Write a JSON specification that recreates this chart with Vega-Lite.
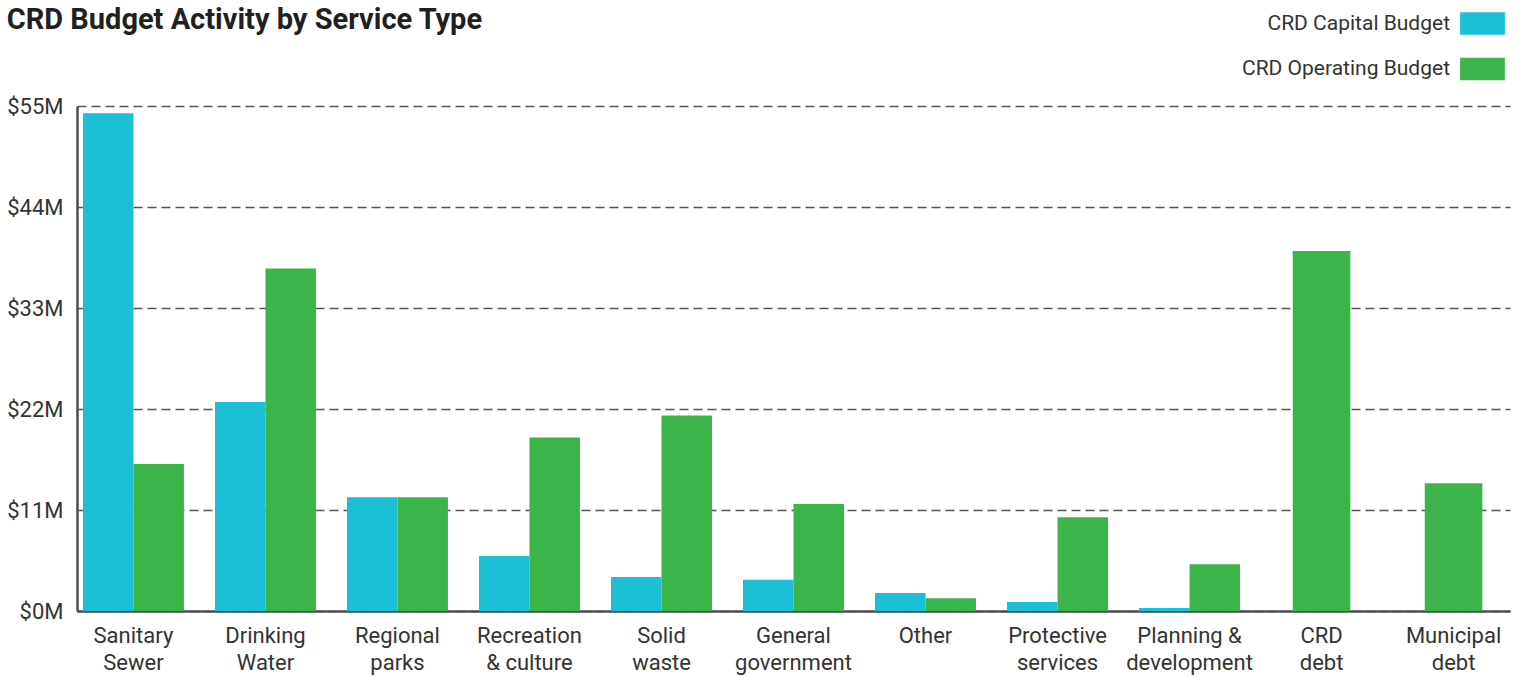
{
  "$schema": "https://vega.github.io/schema/vega-lite/v6.json",
  "width": 1433,
  "height": 505,
  "autosize": {"type": "none"},
  "padding": {"left": 77, "top": 106, "right": 13, "bottom": 66},
  "background": "white",
  "title": {
    "text": "CRD Budget Activity by Service Type",
    "anchor": "start",
    "frame": "bounds",
    "font": "Roboto",
    "fontSize": 29,
    "fontWeight": "bold",
    "color": "#231f20",
    "baseline": "alphabetic",
    "offset": -57
  },
  "config": {
    "view": {"stroke": null},
    "font": "Roboto"
  },
  "data": {
    "values": [
      {"service": "Sanitary Sewer", "budget": "CRD Capital Budget", "amount": 54.2},
      {"service": "Sanitary Sewer", "budget": "CRD Operating Budget", "amount": 16.0},
      {"service": "Drinking Water", "budget": "CRD Capital Budget", "amount": 22.75},
      {"service": "Drinking Water", "budget": "CRD Operating Budget", "amount": 37.3},
      {"service": "Regional parks", "budget": "CRD Capital Budget", "amount": 12.4},
      {"service": "Regional parks", "budget": "CRD Operating Budget", "amount": 12.4},
      {"service": "Recreation & culture", "budget": "CRD Capital Budget", "amount": 6.0},
      {"service": "Recreation & culture", "budget": "CRD Operating Budget", "amount": 18.9},
      {"service": "Solid waste", "budget": "CRD Capital Budget", "amount": 3.7},
      {"service": "Solid waste", "budget": "CRD Operating Budget", "amount": 21.3},
      {"service": "General government", "budget": "CRD Capital Budget", "amount": 3.4},
      {"service": "General government", "budget": "CRD Operating Budget", "amount": 11.65},
      {"service": "Other", "budget": "CRD Capital Budget", "amount": 1.95},
      {"service": "Other", "budget": "CRD Operating Budget", "amount": 1.4},
      {"service": "Protective services", "budget": "CRD Capital Budget", "amount": 0.98},
      {"service": "Protective services", "budget": "CRD Operating Budget", "amount": 10.2},
      {"service": "Planning & development", "budget": "CRD Capital Budget", "amount": 0.33},
      {"service": "Planning & development", "budget": "CRD Operating Budget", "amount": 5.1},
      {"service": "CRD debt", "budget": "CRD Operating Budget", "amount": 39.2},
      {"service": "Municipal debt", "budget": "CRD Operating Budget", "amount": 13.9}
    ]
  },
  "encoding": {
    "x": {
      "field": "service",
      "type": "nominal",
      "sort": null,
      "title": null,
      "scale": {
        "domain": ["Sanitary Sewer", "Drinking Water", "Regional parks", "Recreation & culture", "Solid waste", "General government", "Other", "Protective services", "Planning & development", "CRD debt", "Municipal debt"],
        "paddingInner": 0.235,
        "paddingOuter": 0.045
      },
      "axis": {
        "labelAngle": 0,
        "ticks": false,
        "domainColor": "#4a4f57",
        "domainWidth": 2.5,
        "labelFontSize": 22,
        "labelLineHeight": 27,
        "labelColor": "#333333",
        "labelPadding": 14,
        "labelOverlap": false,
        "labelLimit": 300,
        "labelExpr": "datum.value == 'Recreation & culture' ? ['Recreation', '& culture'] : datum.value == 'Planning & development' ? ['Planning &', 'development'] : split(datum.value, ' ')"
      }
    },
    "y": {
      "field": "amount",
      "type": "quantitative",
      "title": null,
      "scale": {"domain": [0, 55], "nice": false},
      "axis": {
        "values": [0, 11, 22, 33, 44, 55],
        "labelExpr": "'$' + datum.value + 'M'",
        "ticks": false,
        "domain": true,
        "domainColor": "#4a4f57",
        "domainWidth": 2.5,
        "grid": true,
        "gridColor": "#50555c",
        "gridWidth": 1.5,
        "gridDash": [9, 5],
        "labelFontSize": 22,
        "labelColor": "#333333",
        "labelPadding": 14
      }
    },
    "color": {
      "field": "budget",
      "type": "nominal",
      "title": null,
      "scale": {
        "domain": ["CRD Capital Budget", "CRD Operating Budget"],
        "range": ["#1bbfd6", "#3bb54a"]
      },
      "legend": {
        "orient": "none",
        "legendX": 1383,
        "legendY": -105,
        "direction": "vertical",
        "padding": 0,
        "symbolType": "M-1,-0.5H1V0.5H-1Z",
        "symbolSize": 2000,
        "symbolStrokeWidth": 0,
        "symbolOpacity": 1,
        "labelAlign": "right",
        "labelOffset": -55,
        "labelFontSize": 21,
        "labelColor": "#333333",
        "labelLimit": 400,
        "rowPadding": 11.5
      }
    }
  },
  "layer": [
    {
      "transform": [{"filter": "datum.service != 'CRD debt' && datum.service != 'Municipal debt'"}],
      "mark": {"type": "bar"},
      "encoding": {
        "xOffset": {"field": "budget", "type": "nominal", "sort": ["CRD Capital Budget", "CRD Operating Budget"]}
      }
    },
    {
      "transform": [{"filter": "datum.service == 'CRD debt' || datum.service == 'Municipal debt'"}],
      "mark": {"type": "bar", "width": {"band": 0.57}}
    }
  ]
}
